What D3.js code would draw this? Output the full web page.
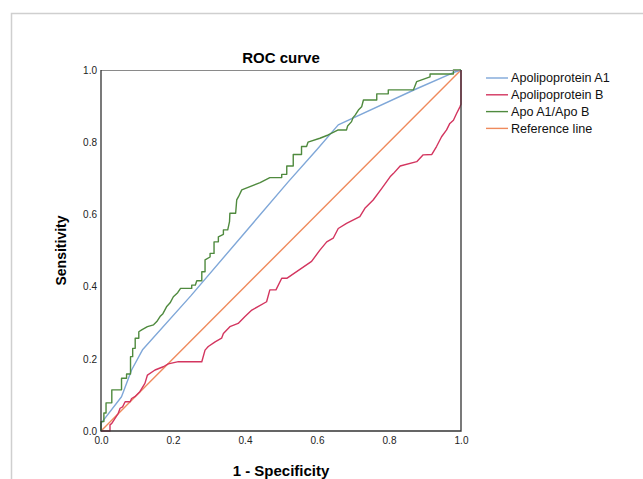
<!DOCTYPE html>
<html>
<head>
<meta charset="utf-8">
<script src="https://cdn.jsdelivr.net/npm/d3@7"></script>
<style>
  body { margin: 0; background: #fff; }
  svg text { font-family: "Liberation Sans", Arial, sans-serif; }
</style>
</head>
<body>
<svg id="chart" width="643" height="479"></svg>
<script>
// ROC curves, [1 - specificity, sensitivity]
const apoA1 = [[0,0],[0,0.021],[0.057,0.095],[0.085,0.169],[0.116,0.226],[0.25,0.375],
  [0.40,0.55],[0.52,0.69],[0.60,0.78],[0.659,0.848],[0.872,0.946],[0.979,0.993],[1,1]];

const apoB = [[0,0],[0.025,0],[0.025,0.017],[0.030,0.021],[0.039,0.035],[0.048,0.049],
  [0.053,0.063],[0.060,0.067],[0.067,0.081],[0.081,0.081],[0.085,0.090],[0.094,0.095],
  [0.108,0.109],[0.122,0.132],[0.129,0.155],[0.150,0.169],[0.173,0.178],[0.187,0.186],
  [0.215,0.192],[0.280,0.192],[0.289,0.224],[0.298,0.234],[0.317,0.247],[0.335,0.257],
  [0.340,0.270],[0.358,0.289],[0.381,0.298],[0.400,0.317],[0.419,0.335],[0.460,0.358],
  [0.469,0.391],[0.486,0.391],[0.502,0.423],[0.516,0.423],[0.585,0.47],[0.608,0.501],
  [0.627,0.524],[0.645,0.534],[0.659,0.561],[0.682,0.575],[0.719,0.594],[0.733,0.617],
  [0.756,0.640],[0.780,0.672],[0.803,0.704],[0.812,0.713],[0.831,0.734],[0.877,0.746],
  [0.895,0.765],[0.919,0.766],[0.932,0.788],[0.946,0.815],[0.960,0.834],[0.969,0.852],
  [0.979,0.861],[0.988,0.880],[0.997,0.898],[1,0.905],[1,1]];

const apoRatio = [[0,0],[0,0.026],[0.008,0.026],[0.008,0.05],[0.014,0.05],[0.014,0.078],
  [0.030,0.078],[0.030,0.114],[0.057,0.114],[0.057,0.146],[0.071,0.146],[0.071,0.158],
  [0.082,0.158],[0.082,0.206],[0.088,0.206],[0.088,0.229],[0.095,0.229],[0.095,0.257],
  [0.105,0.257],[0.105,0.275],[0.113,0.28],[0.129,0.289],[0.146,0.294],[0.155,0.303],
  [0.164,0.317],[0.172,0.325],[0.182,0.344],[0.192,0.355],[0.201,0.372],[0.213,0.383],
  [0.221,0.395],[0.252,0.395],[0.252,0.404],[0.262,0.404],[0.266,0.416],[0.28,0.416],
  [0.28,0.441],[0.289,0.441],[0.289,0.474],[0.303,0.482],[0.303,0.492],[0.314,0.492],
  [0.314,0.524],[0.326,0.524],[0.326,0.538],[0.340,0.545],[0.340,0.557],[0.352,0.557],
  [0.357,0.580],[0.358,0.603],[0.374,0.603],[0.377,0.640],[0.382,0.649],[0.391,0.668],
  [0.442,0.688],[0.469,0.702],[0.502,0.702],[0.502,0.711],[0.516,0.711],[0.516,0.734],
  [0.534,0.734],[0.534,0.766],[0.557,0.766],[0.557,0.788],[0.571,0.788],[0.575,0.800],
  [0.608,0.811],[0.631,0.820],[0.659,0.834],[0.682,0.834],[0.685,0.845],[0.696,0.857],
  [0.700,0.868],[0.706,0.875],[0.715,0.889],[0.724,0.898],[0.729,0.917],[0.766,0.917],
  [0.766,0.934],[0.798,0.934],[0.798,0.945],[0.868,0.945],[0.877,0.968],[0.914,0.981],
  [0.914,0.989],[0.979,0.989],[0.979,1],[1,1]];

const refLine = [[0,0],[1,1]];

const seriesNames = ["Apolipoprotein A1", "Apolipoprotein B", "Apo A1/Apo B", "Reference line"];
const seriesColors = ["#7fa7d8", "#d3355f", "#4f8a3e", "#ef8a5c"];
const tickValues = [0, 0.2, 0.4, 0.6, 0.8, 1.0];

const svg = d3.select("#chart");

const plot = {left: 101, right: 461, top: 70, bottom: 431};
const x = d3.scaleLinear().domain([0, 1]).range([plot.left, plot.right]);
const y = d3.scaleLinear().domain([0, 1]).range([plot.bottom, plot.top]);

// outer frame (only top and left visible)
svg.append("path")
    .attr("d", "M11.5,479 L11.5,13.5 L643,13.5")
    .attr("fill", "none")
    .attr("stroke", "#cfcfcf")
    .attr("stroke-width", 1.5);

// title
svg.append("text")
    .attr("x", (plot.left + plot.right) / 2)
    .attr("y", 63)
    .attr("text-anchor", "middle")
    .style("font-size", "15px")
    .style("font-weight", "bold")
    .text("ROC curve");

// axes: labels only, no tick marks
const xAxis = svg.append("g")
    .attr("transform", `translate(0,${plot.bottom})`)
    .call(d3.axisBottom(x).tickValues(tickValues).tickSize(0).tickPadding(6).tickFormat(d3.format(".1f")));
const yAxis = svg.append("g")
    .attr("transform", `translate(${plot.left},0)`)
    .call(d3.axisLeft(y).tickValues(tickValues).tickSize(0).tickPadding(4).tickFormat(d3.format(".1f")));
[xAxis, yAxis].forEach(g => {
    g.select(".domain").remove();
    g.selectAll("text")
        .style("font-family", "'Liberation Sans', Arial, sans-serif")
        .style("font-size", "10px")
        .attr("fill", "#222");
});

// axis titles
svg.append("text")
    .attr("x", (plot.left + plot.right) / 2)
    .attr("y", 476)
    .attr("text-anchor", "middle")
    .style("font-size", "15px")
    .style("font-weight", "bold")
    .text("1 - Specificity");

svg.append("text")
    .attr("transform", `translate(66,${(plot.top + plot.bottom) / 2}) rotate(-90)`)
    .attr("text-anchor", "middle")
    .style("font-size", "14px")
    .style("font-weight", "bold")
    .text("Sensitivity");

// curves
const line = d3.line().x(d => x(d[0])).y(d => y(d[1]));
const curves = [
    {data: refLine, color: seriesColors[3]},
    {data: apoA1, color: seriesColors[0]},
    {data: apoB, color: seriesColors[1]},
    {data: apoRatio, color: seriesColors[2]}
];
svg.append("g").selectAll("path")
    .data(curves)
    .join("path")
    .attr("d", d => line(d.data))
    .attr("fill", "none")
    .attr("stroke", d => d.color)
    .attr("stroke-width", 1.4)
    .attr("stroke-linejoin", "round");

// plot frame
svg.append("line")
    .attr("x1", plot.left).attr("x2", plot.right)
    .attr("y1", plot.top + 0.5).attr("y2", plot.top + 0.5)
    .attr("stroke", "#8a8a8a").attr("stroke-width", 1.2);
svg.append("path")
    .attr("d", `M${plot.left},${plot.top} V${plot.bottom} H${plot.right} V${plot.top}`)
    .attr("fill", "none")
    .attr("stroke", "#333")
    .attr("stroke-width", 1.3);

// legend
const legend = svg.append("g").attr("transform", "translate(486,78)");
const rows = legend.selectAll("g")
    .data(seriesNames)
    .join("g")
    .attr("transform", (d, i) => `translate(0,${i * 16.8})`);
rows.append("line")
    .attr("x1", 0).attr("x2", 22)
    .attr("stroke", (d, i) => seriesColors[i])
    .attr("stroke-width", 1.4);
rows.append("text")
    .attr("x", 25)
    .attr("dy", "0.35em")
    .style("font-size", "12.6px")
    .attr("fill", "#111")
    .text(d => d);
</script>
</body>
</html>
